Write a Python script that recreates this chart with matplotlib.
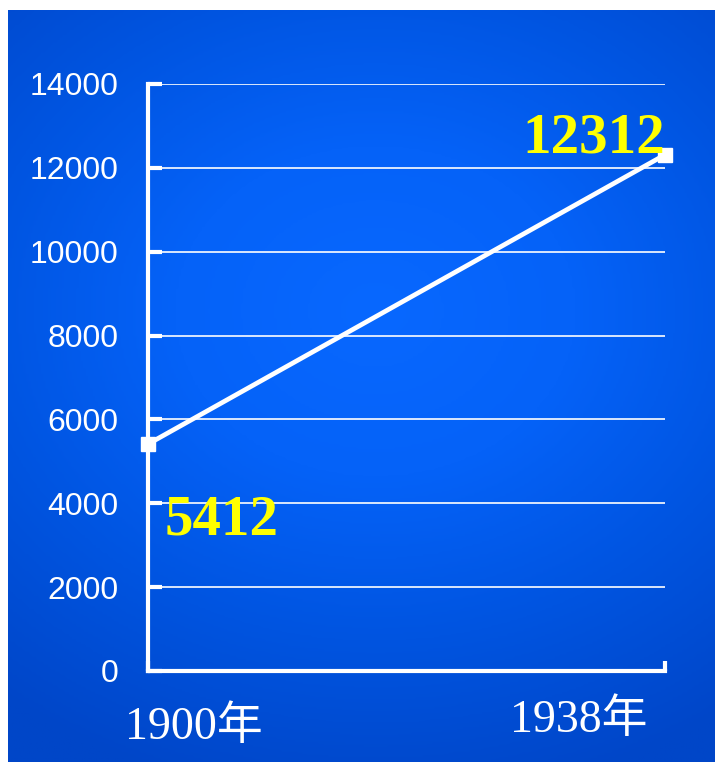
import numpy as np
import matplotlib
matplotlib.use("Agg")
import matplotlib.pyplot as plt
from matplotlib.colors import LinearSegmentedColormap
from matplotlib.transforms import ScaledTranslation

# ---- data ----
years = ["1900年", "1938年"]
values = [5412, 12312]
y_ticks = [0, 2000, 4000, 6000, 8000, 10000, 12000, 14000]
value_labels = ["5412", "12312"]

W, H, DPI = 715, 762, 100
fig = plt.figure(figsize=(W / DPI, H / DPI), dpi=DPI, facecolor="white")

# ---- blue gradient background ----
bg = fig.add_axes([8 / W, 0, (W - 8) / W, (H - 10) / H])
bg.set_axis_off()
ny, nx = 300, 300
yy = np.linspace(0, 1, ny)[:, None]
xx = np.linspace(0, 1, nx)[None, :]
d = np.sqrt(((xx - 0.52) / 0.85) ** 2 + ((yy - 0.40) / 0.66) ** 2)
d = np.clip(d, 0, 1)
cmap = LinearSegmentedColormap.from_list(
    "bg", ["#0868ff", "#0562f8", "#0054e0", "#0046c8"])
bg.imshow(d, cmap=cmap, aspect="auto", extent=[0, 1, 1, 0], vmin=0, vmax=1)
bg.set_xlim(0, 1)
bg.set_ylim(1, 0)

# ---- main axes ----
x0, x1 = 148, 665
y0, y1 = 671, 84
ax = fig.add_axes([x0 / W, 1 - y0 / H, (x1 - x0) / W, (y0 - y1) / H])
ax.set_facecolor("none")
xs = np.arange(len(years))
ax.set_xlim(0, len(years) - 1)
ax.set_ylim(0, 14000)

for s in ["top", "right"]:
    ax.spines[s].set_visible(False)
for s in ["left", "bottom"]:
    ax.spines[s].set_color("white")
    ax.spines[s].set_linewidth(3.0)
    ax.spines[s].set_capstyle("projecting")

ax.set_yticks(y_ticks)
ax.set_yticklabels([str(v) for v in y_ticks])
ax.yaxis.grid(True, color="white", linewidth=1.2)
ax.set_axisbelow(True)
ax.tick_params(axis="y", direction="in", length=10, width=3, color="white",
               labelcolor="white", labelsize=23, pad=21)
for lab in ax.get_yticklabels():
    lab.set_family("Liberation Sans")

ax.set_xticks(xs)
ax.set_xticklabels(years)
ax.tick_params(axis="x", direction="in", length=7, width=3, color="white",
               labelcolor="white", labelsize=33, pad=49)
offsets = [(-0.23, 0.0, "left"), (-0.18, 0.07, "right")]
for lab, (dx, dy, ha) in zip(ax.get_xticklabels(), offsets):
    lab.set_family(["Liberation Serif", "Noto Sans CJK SC"])
    lab.set_ha(ha)
    lab.set_va("baseline")
    lab.set_transform(lab.get_transform() + ScaledTranslation(dx, dy, fig.dpi_scale_trans))

# ---- line ----
ax.plot(xs, values, color="white", linewidth=3.4, marker="s", markersize=10,
        markerfacecolor="white", markeredgecolor="white", clip_on=False, zorder=5)

# ---- value labels ----
label_offsets = [(12, -65, "left"), (0, 1.4, "right")]
for xi, v, t, (ox, oy, ha) in zip(xs, values, value_labels, label_offsets):
    ax.annotate(t, (xi, v), xytext=(ox, oy), textcoords="offset points",
                ha=ha, va="baseline", color="#ffff00", fontsize=41,
                fontweight="bold", family="Liberation Serif",
                annotation_clip=False, zorder=6)

fig.savefig("out.png", dpi=DPI, facecolor="white")
